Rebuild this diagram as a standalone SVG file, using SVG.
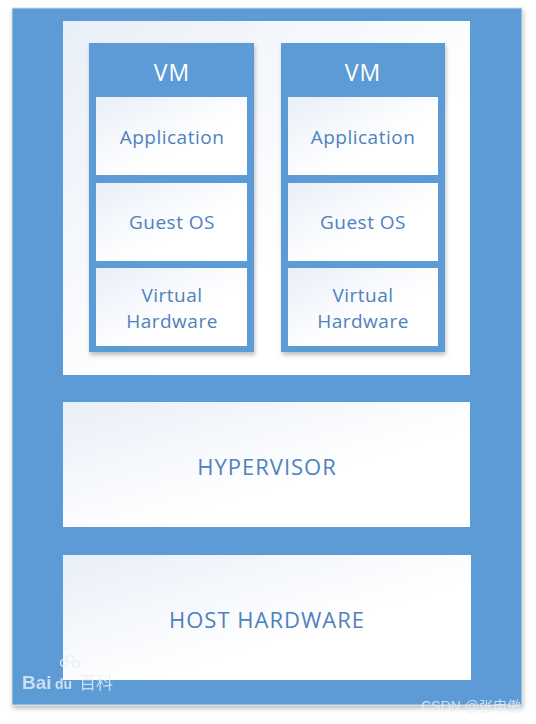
<svg xmlns="http://www.w3.org/2000/svg" width="536" height="724" viewBox="0 0 536 724">
<style>
.blue{fill:#5b9bd5}
.panel{fill:url(#pg)}
.t{font-family:"Open Sans","Noto Sans",sans-serif;fill:#4f81bd;text-anchor:middle;dominant-baseline:central}
.s{font-size:19px;letter-spacing:0.5px}
.l{font-size:22px;letter-spacing:1px}
.vm{font-family:"Open Sans","Noto Sans",sans-serif;fill:#ffffff;font-size:23px;text-anchor:middle;dominant-baseline:central;letter-spacing:1px}
.wm{font-family:"Liberation Sans","Noto Sans CJK SC",sans-serif;fill:#e8f0f8;opacity:0.8}
</style>
<defs>
<linearGradient id="pg" x1="0" y1="0" x2="1" y2="1">
<stop offset="0" stop-color="#e9eff8"/>
<stop offset="0.6" stop-color="#ffffff"/>
<stop offset="1" stop-color="#ffffff"/>
</linearGradient>
<filter id="sh" x="-10%" y="-10%" width="120%" height="120%">
<feDropShadow dx="1" dy="3" stdDeviation="2" flood-color="#000" flood-opacity="0.25"/>
</filter>
</defs>
<rect x="0" y="0" width="536" height="724" fill="#ffffff"/>
<g id="frame">
<rect x="12" y="8" width="510" height="697" class="blue" stroke="#d7dde4" stroke-width="1" filter="url(#sh)"/>
</g>
<g id="host-panel">
<rect x="63" y="21" width="407" height="354" class="panel"/>
</g>
<g id="vm1">
<rect x="89" y="43" width="165" height="309" class="blue" filter="url(#sh)"/>
<text class="vm" x="172" y="72">VM</text>
<g id="vm1-app"><rect x="96" y="97" width="151" height="78" class="panel"/><text class="t s" x="172" y="137">Application</text></g>
<g id="vm1-os"><rect x="96" y="183" width="151" height="78" class="panel"/><text class="t s" x="172" y="222">Guest OS</text></g>
<g id="vm1-hw"><rect x="96" y="268" width="151" height="78" class="panel"/><text class="t s" x="172" y="295">Virtual</text><text class="t s" x="172" y="321">Hardware</text></g>
</g>
<g id="vm2">
<rect x="281" y="43" width="164" height="309" class="blue" filter="url(#sh)"/>
<text class="vm" x="363" y="72">VM</text>
<g id="vm2-app"><rect x="288" y="97" width="150" height="78" class="panel"/><text class="t s" x="363" y="137">Application</text></g>
<g id="vm2-os"><rect x="288" y="183" width="150" height="78" class="panel"/><text class="t s" x="363" y="222">Guest OS</text></g>
<g id="vm2-hw"><rect x="288" y="268" width="150" height="78" class="panel"/><text class="t s" x="363" y="295">Virtual</text><text class="t s" x="363" y="321">Hardware</text></g>
</g>
<g id="hypervisor">
<rect x="63" y="402" width="407" height="125" class="panel"/>
<text class="t l" x="267" y="466">HYPERVISOR</text>
</g>
<g id="host-hardware">
<rect x="63" y="555" width="408" height="125" class="panel"/>
<text class="t l" x="267" y="619">HOST HARDWARE</text>
</g>
<g id="connectors"></g>
<g id="watermarks">
<text class="wm" x="22" y="689" font-size="19" font-weight="bold">Bai</text>
<circle cx="64" cy="663" r="3.5" fill="none" stroke="#e8f0f8" stroke-width="1.2"/>
<circle cx="70" cy="659" r="3.5" fill="none" stroke="#e8f0f8" stroke-width="1.2"/>
<circle cx="76" cy="664" r="3.5" fill="none" stroke="#e8f0f8" stroke-width="1.2"/>
<text class="wm" x="55" y="689" font-size="14" font-weight="bold">du</text>
<text class="wm" x="79" y="689" font-size="17">百科</text>
<text class="wm" x="521" y="711" font-size="14" text-anchor="end" fill="#f4f6f8">CSDN @张申傲</text>
</g>
</svg>
